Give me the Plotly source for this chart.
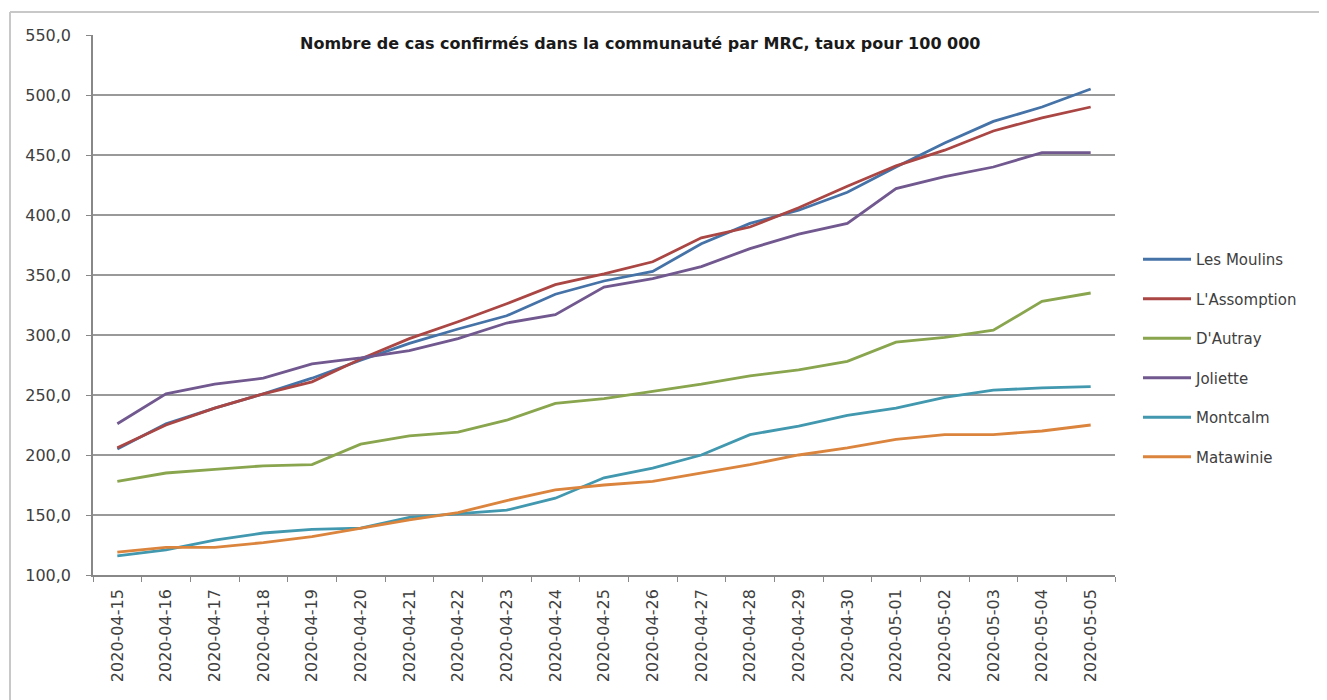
import plotly.graph_objects as go

dates = ["2020-04-15", "2020-04-16", "2020-04-17", "2020-04-18", "2020-04-19",
         "2020-04-20", "2020-04-21", "2020-04-22", "2020-04-23", "2020-04-24",
         "2020-04-25", "2020-04-26", "2020-04-27", "2020-04-28", "2020-04-29",
         "2020-04-30", "2020-05-01", "2020-05-02", "2020-05-03", "2020-05-04",
         "2020-05-05"]

les_moulins = [205, 226, 239, 251, 264, 279, 293, 305, 316, 334, 345, 353, 376, 393, 404, 419, 440, 460, 478, 490, 505]
l_assomption = [206, 225, 239, 251, 261, 280, 297, 311, 326, 342, 351, 361, 381, 390, 406, 424, 441, 454, 470, 481, 490]
d_autray = [178, 185, 188, 191, 192, 209, 216, 219, 229, 243, 247, 253, 259, 266, 271, 278, 294, 298, 304, 328, 335]
joliette = [226, 251, 259, 264, 276, 281, 287, 297, 310, 317, 340, 347, 357, 372, 384, 393, 422, 432, 440, 452, 452]
montcalm = [116, 121, 129, 135, 138, 139, 148, 151, 154, 164, 181, 189, 200, 217, 224, 233, 239, 248, 254, 256, 257]
matawinie = [119, 123, 123, 127, 132, 139, 146, 152, 162, 171, 175, 178, 185, 192, 200, 206, 213, 217, 217, 220, 225]

series_names = ["Les Moulins", "L'Assomption", "D'Autray", "Joliette", "Montcalm", "Matawinie"]
series_values = [les_moulins, l_assomption, d_autray, joliette, montcalm, matawinie]
colors = ["#4572A7", "#AA4643", "#89A54E", "#71588F", "#4198AF", "#DB843D"]

y_ticks = [100, 150, 200, 250, 300, 350, 400, 450, 500, 550]
y_ticktext = [f"{v:.1f}".replace(".", ",") for v in y_ticks]

title_text = "Nombre de cas confirmés dans la communauté par MRC, taux pour 100 000"

fig = go.Figure()
for name, vals, col in zip(series_names, series_values, colors):
    fig.add_trace(go.Scatter(
        x=dates, y=vals, mode="lines", name=name, legendgroup=name,
        line=dict(color=col, width=2.8),
    ))

OFF = 8  # page body margin
W, H = 1327, 700
L, T = 93 - OFF, 35 - OFF
R = W - (1115 - OFF)
B = H - (575 - OFF)
pw, ph = W - L - R, H - T - B

def px_x(p):
    return (p - OFF - L) / pw

def px_y(p):
    return (H - B - (p - OFF)) / ph

fig.update_layout(
    width=W, height=H,
    margin=dict(l=L, r=R, t=T, b=B, autoexpand=False),
    paper_bgcolor="white", plot_bgcolor="white",
    font=dict(family="DejaVu Sans", size=14, color="#404040"),
    showlegend=True,
    legend=dict(
        x=px_x(1138), y=px_y(243), xanchor="left", yanchor="top",
        font=dict(family="DejaVu Sans", size=15, color="#404040"),
        tracegroupgap=17, itemwidth=48, bgcolor="rgba(0,0,0,0)",
    ),
    xaxis=dict(
        type="category", range=[-0.5, len(dates) - 0.5],
        tickangle=-90, tickson="boundaries", ticks="outside", ticklen=5,
        tickcolor="#888888", showline=True, linecolor="#888888", linewidth=1.5,
        showgrid=False, ticklabelstandoff=6,
        tickfont=dict(family="DejaVu Sans", size=16, color="#404040"),
        fixedrange=True,
    ),
    yaxis=dict(
        range=[100, 550], tickvals=y_ticks, ticktext=y_ticktext,
        ticks="outside", ticklen=5, tickcolor="#888888",
        showline=True, linecolor="#888888", linewidth=1.5,
        showgrid=True, gridcolor="#999999", gridwidth=1.5, zeroline=False,
        ticklabelstandoff=12,
        tickfont=dict(family="DejaVu Sans", size=16, color="#404040"),
        fixedrange=True,
    ),
    annotations=[dict(
        text="<b>" + title_text + "</b>", xref="paper", yref="paper",
        x=px_x(640), y=px_y(43), xanchor="center", yanchor="middle",
        showarrow=False, bgcolor="white", borderpad=2,
        font=dict(family="DejaVu Sans", size=16, color="#1a1a1a"),
    )],
    shapes=[
        dict(type="line", xref="paper", yref="paper", x0=px_x(10), x1=px_x(1340),
             y0=px_y(12), y1=px_y(12), line=dict(color="#c8c8c8", width=2)),
        dict(type="line", xref="paper", yref="paper", x0=px_x(10), x1=px_x(10),
             y0=px_y(12), y1=px_y(710), line=dict(color="#c8c8c8", width=2)),
    ],
)

fig.write_html("out.html")
